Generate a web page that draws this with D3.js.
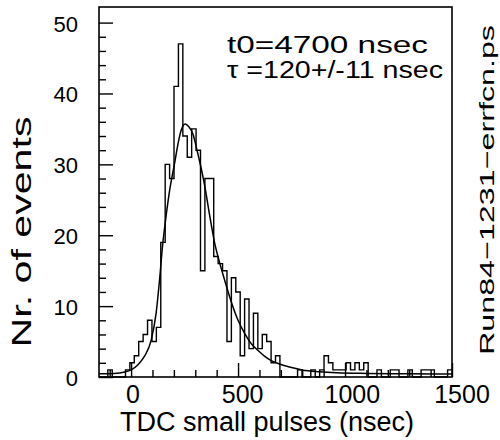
<!DOCTYPE html>
<html>
<head>
<meta charset="utf-8">
<script src="https://cdn.jsdelivr.net/npm/d3@7"></script>
<style>
  body { margin: 0; background: #fff; }
  text { font-family: "Liberation Sans", Arial, sans-serif; fill: #000; }
</style>
</head>
<body>
<script>
// histogram: 80 bins from -150 to 1500 nsec
var binLo = -150, binHi = 1500;
var counts = [
  0, 0, 1, 0, 0, 0, 1, 2, 3, 5,
  6, 8, 5, 7, 19, 30, 28, 41, 47, 34,
  31, 35, 32, 15, 28, 28, 17, 16, 15, 5,
  14, 12, 3, 11, 4, 9, 4, 6, 5, 2,
  3, 0, 0, 0, 0, 1, 0, 0, 1, 0,
  1, 3, 2, 1, 1, 1, 2, 1, 2, 1,
  2, 0, 0, 1, 0, 0, 1, 1, 0, 0,
  1, 0, 0, 1, 1, 1, 0, 0, 0, 1
];

// fitted curve
var fitX = [-150, -80, -30, 0, 31, 62, 94, 117, 133, 148, 161, 180, 203, 220, 234, 253,
            270, 290, 305, 325, 344, 365, 390, 415, 437, 465, 500, 530, 562, 595, 625,
            655, 687, 740, 800, 880, 960, 1100, 1300, 1500];
var fitY = [0.45, 0.5, 0.7, 1.0, 1.7, 2.9, 5.2, 9.0, 13.7, 18.8, 22.1, 26.3, 30.1, 33.0, 34.8, 35.7,
            35.3, 34.2, 32.4, 29.8, 27.0, 23.2, 19.0, 16.0, 13.7, 10.9, 8.0, 6.2, 4.7, 3.7, 2.9,
            2.3, 1.9, 1.4, 1.0, 0.75, 0.6, 0.5, 0.45, 0.42];

var xMajor = [0, 500, 1000, 1500];
var yMajor = [0, 10, 20, 30, 40, 50];

var W = 500, H = 440;
var svg = d3.select("body").append("svg")
    .attr("width", W)
    .attr("height", H);

var x = d3.scaleLinear().domain([binLo, binHi]).range([99, 452]);
var y = d3.scaleLinear().domain([0, 52.2]).range([377, 7]);
// the x labels sit a little wider apart than the ticks
var xl = d3.scaleLinear().domain([0, 1500]).range([133, 462]);

var binW = (binHi - binLo) / counts.length;

// histogram outline
var steps = counts.map(function(c, i) { return {e: binLo + i * binW, c: c}; });
steps.push({e: binHi, c: counts[counts.length - 1]});
var step = d3.line()
    .x(function(d) { return x(d.e); })
    .y(function(d) { return y(d.c); })
    .curve(d3.curveStepAfter);

svg.append("path")
    .attr("d", step(steps))
    .attr("fill", "none")
    .attr("stroke", "#000")
    .attr("stroke-width", 1.4);

// fit curve
var fit = fitX.map(function(v, i) { return [v, fitY[i]]; });
svg.append("path")
    .attr("d", d3.line()
        .x(function(d) { return x(d[0]); })
        .y(function(d) { return y(d[1]); })
        .curve(d3.curveMonotoneX)(fit))
    .attr("fill", "none")
    .attr("stroke", "#000")
    .attr("stroke-width", 1.5);

// frame
svg.append("rect")
    .attr("x", x(binLo)).attr("y", y(52.2))
    .attr("width", x(binHi) - x(binLo))
    .attr("height", y(0) - y(52.2))
    .attr("fill", "none")
    .attr("stroke", "#000")
    .attr("stroke-width", 1.6);

// ticks, pointing inwards
var xAxis = d3.axisTop(x).tickValues(d3.range(-100, 1501, 100))
    .tickSize(0).tickFormat("");
var gx = svg.append("g").attr("transform", "translate(0," + y(0) + ")").call(xAxis);
gx.select(".domain").remove();
gx.selectAll(".tick line")
    .attr("y2", function(d) { return d % 500 === 0 ? -14 : -7; })
    .attr("stroke-width", 1.4);

var yAxis = d3.axisRight(y).tickValues(d3.range(0, 52, 2))
    .tickSize(0).tickFormat("");
var gy = svg.append("g").attr("transform", "translate(" + x(binLo) + ",0)").call(yAxis);
gy.select(".domain").remove();
gy.selectAll(".tick line")
    .attr("x2", function(d) { return d % 10 === 0 ? 14 : 7; })
    .attr("stroke-width", 1.4);

// tick labels
svg.selectAll(".ylab").data(yMajor).enter().append("text")
    .attr("class", "ylab")
    .attr("x", 78)
    .attr("y", function(d) { return y(d) + 9; })
    .attr("text-anchor", "end")
    .attr("font-size", 22)
    .text(function(d) { return d; });

svg.selectAll(".xlab").data(xMajor).enter().append("text")
    .attr("class", "xlab")
    .attr("x", function(d) { return xl(d); })
    .attr("y", 403)
    .attr("text-anchor", "middle")
    .attr("font-size", 25)
    .text(function(d) { return d; });

// axis titles
svg.append("text")
    .attr("x", 267).attr("y", 431)
    .attr("text-anchor", "middle")
    .attr("font-size", 27)
    .text("TDC small pulses (nsec)");

svg.append("text")
    .attr("transform", "translate(31,232) rotate(-90)")
    .attr("text-anchor", "middle")
    .attr("font-size", 27)
    .attr("textLength", 231)
    .attr("lengthAdjust", "spacingAndGlyphs")
    .text("Nr. of events");

// fit result
svg.append("text")
    .attr("x", 227).attr("y", 53)
    .attr("font-size", 23)
    .attr("textLength", 201)
    .attr("lengthAdjust", "spacingAndGlyphs")
    .text("t0=4700 nsec");
svg.append("text")
    .attr("x", 227).attr("y", 78)
    .attr("font-size", 23)
    .attr("textLength", 216)
    .attr("lengthAdjust", "spacingAndGlyphs")
    .text("\u03c4 =120+/-11 nsec");

// file name on the right
svg.append("text")
    .attr("transform", "translate(494,355) rotate(-90)")
    .attr("font-size", 21)
    .attr("textLength", 330)
    .attr("lengthAdjust", "spacingAndGlyphs")
    .text("Run84\u22121231\u2212errfcn.ps");
</script>
</body>
</html>
